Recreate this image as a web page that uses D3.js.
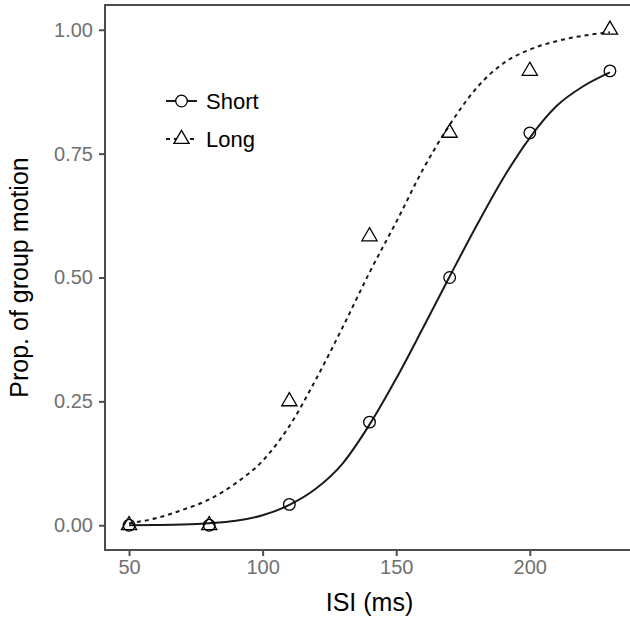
<!DOCTYPE html>
<html>
<head>
<meta charset="utf-8">
<title>Prop. of group motion</title>
<script src="https://d3js.org/d3.v7.min.js"></script>
<style>
  body { margin: 0; background: #fff; }
  text { font-family: "Liberation Sans", Arial, sans-serif; }
</style>
</head>
<body>
<div id="chart"></div>
<script>
// observed proportions
let isi = [50, 80, 110, 140, 170, 200, 230];
let shortProp = [0, 0, 0.042, 0.208, 0.5, 0.792, 0.917];
let longProp = [0, 0, 0.25, 0.583, 0.792, 0.917, 1.0];

// fitted curves
let fitX = [50, 60, 70, 80, 90, 100, 110, 120, 130, 140, 150, 160, 170, 180, 190, 200, 210, 220, 230];
let shortFit = [0.000, 0.0005, 0.0015, 0.004, 0.009, 0.020, 0.041, 0.074, 0.125, 0.203, 0.296, 0.398, 0.502, 0.604, 0.700, 0.782, 0.846, 0.886, 0.914];
let longFit = [0.004, 0.014, 0.031, 0.052, 0.085, 0.130, 0.200, 0.295, 0.400, 0.510, 0.612, 0.718, 0.808, 0.882, 0.932, 0.960, 0.977, 0.988, 0.995];

let xTicks = [50, 100, 150, 200];
let yTicks = [0, 0.25, 0.5, 0.75, 1];

let W = 630, H = 619;
let margin = {top: 5, right: -4, bottom: 69, left: 105};

let svg = d3.select("#chart").append("svg")
    .attr("width", W).attr("height", H);

let x = d3.scaleLinear().domain([41, 239]).range([margin.left, W - margin.right]);
let y = d3.scaleLinear().domain([-0.05, 1.05]).range([H - margin.bottom, margin.top]);

let gray = "#4d4d4d";

// x axis
let xAxis = svg.append("g")
    .attr("transform", "translate(0," + y(-0.05) + ")")
    .call(d3.axisBottom(x).tickValues(xTicks).tickSize(6).tickPadding(4));
xAxis.select(".domain").remove();
xAxis.selectAll("line").attr("stroke", gray).attr("stroke-width", 2);
xAxis.selectAll("text").attr("fill", "#707070").attr("font-size", 20).attr("font-family", "Liberation Sans, Arial, sans-serif");

// y axis
let yAxis = svg.append("g")
    .attr("transform", "translate(" + x(41) + ",0)")
    .call(d3.axisLeft(y).tickValues(yTicks).tickFormat(d3.format(".2f")).tickSize(6).tickPadding(6));
yAxis.select(".domain").remove();
yAxis.selectAll("line").attr("stroke", gray).attr("stroke-width", 2);
yAxis.selectAll("text").attr("fill", "#707070").attr("font-size", 20).attr("font-family", "Liberation Sans, Arial, sans-serif");

// panel border
svg.append("rect")
    .attr("x", x(41)).attr("y", y(1.05))
    .attr("width", x(239) - x(41)).attr("height", y(-0.05) - y(1.05))
    .attr("fill", "none").attr("stroke", gray).attr("stroke-width", 2);

// curves
let line = d3.line().curve(d3.curveMonotoneX)
    .x(function(d) { return x(d[0]); })
    .y(function(d) { return y(d[1]); });

svg.append("path")
    .attr("d", line(d3.zip(fitX, longFit)))
    .attr("fill", "none").attr("stroke", "#1a1a1a").attr("stroke-width", 2)
    .attr("stroke-dasharray", "4,4");

svg.append("path")
    .attr("d", line(d3.zip(fitX, shortFit)))
    .attr("fill", "none").attr("stroke", "#1a1a1a").attr("stroke-width", 2);

// markers
let tri = "M0,-8.7L7.6,4.4L-7.6,4.4Z";

svg.selectAll("circle.pt")
    .data(d3.zip(isi, shortProp))
    .enter().append("circle")
    .attr("class", "pt")
    .attr("cx", function(d) { return x(d[0]); })
    .attr("cy", function(d) { return y(d[1]); })
    .attr("r", 5.8)
    .attr("fill", "none").attr("stroke", "#000").attr("stroke-width", 1.3);

svg.selectAll("path.tri")
    .data(d3.zip(isi, longProp))
    .enter().append("path")
    .attr("class", "tri")
    .attr("d", tri)
    .attr("transform", function(d) { return "translate(" + x(d[0]) + "," + y(d[1]) + ")"; })
    .attr("fill", "none").attr("stroke", "#000").attr("stroke-width", 1.3);

// legend
let leg = svg.append("g").attr("transform", "translate(166,0)");
leg.append("line").attr("x1", 0).attr("x2", 31).attr("y1", 101).attr("y2", 101)
    .attr("stroke", "#1a1a1a").attr("stroke-width", 2);
leg.append("circle").attr("cx", 15.5).attr("cy", 101).attr("r", 5.8)
    .attr("fill", "#fff").attr("stroke", "#000").attr("stroke-width", 1.3);
leg.append("line").attr("x1", 0).attr("x2", 31).attr("y1", 139).attr("y2", 139)
    .attr("stroke", "#1a1a1a").attr("stroke-width", 2).attr("stroke-dasharray", "4,4");
leg.append("path").attr("d", tri).attr("transform", "translate(15.5,139)")
    .attr("fill", "#fff").attr("stroke", "#000").attr("stroke-width", 1.3);
leg.append("text").attr("x", 40).attr("y", 109).attr("font-size", 22).attr("fill", "#000").text("Short");
leg.append("text").attr("x", 40).attr("y", 147).attr("font-size", 22).attr("fill", "#000").text("Long");

// axis titles
svg.append("text")
    .attr("x", (x(41) + x(239)) / 2).attr("y", 611)
    .attr("text-anchor", "middle").attr("font-size", 25).attr("fill", "#000")
    .text("ISI (ms)");

svg.append("text")
    .attr("transform", "translate(28," + (y(-0.05) + y(1.05)) / 2 + ") rotate(-90)")
    .attr("text-anchor", "middle").attr("font-size", 25).attr("fill", "#000")
    .text("Prop. of group motion");
</script>
</body>
</html>
